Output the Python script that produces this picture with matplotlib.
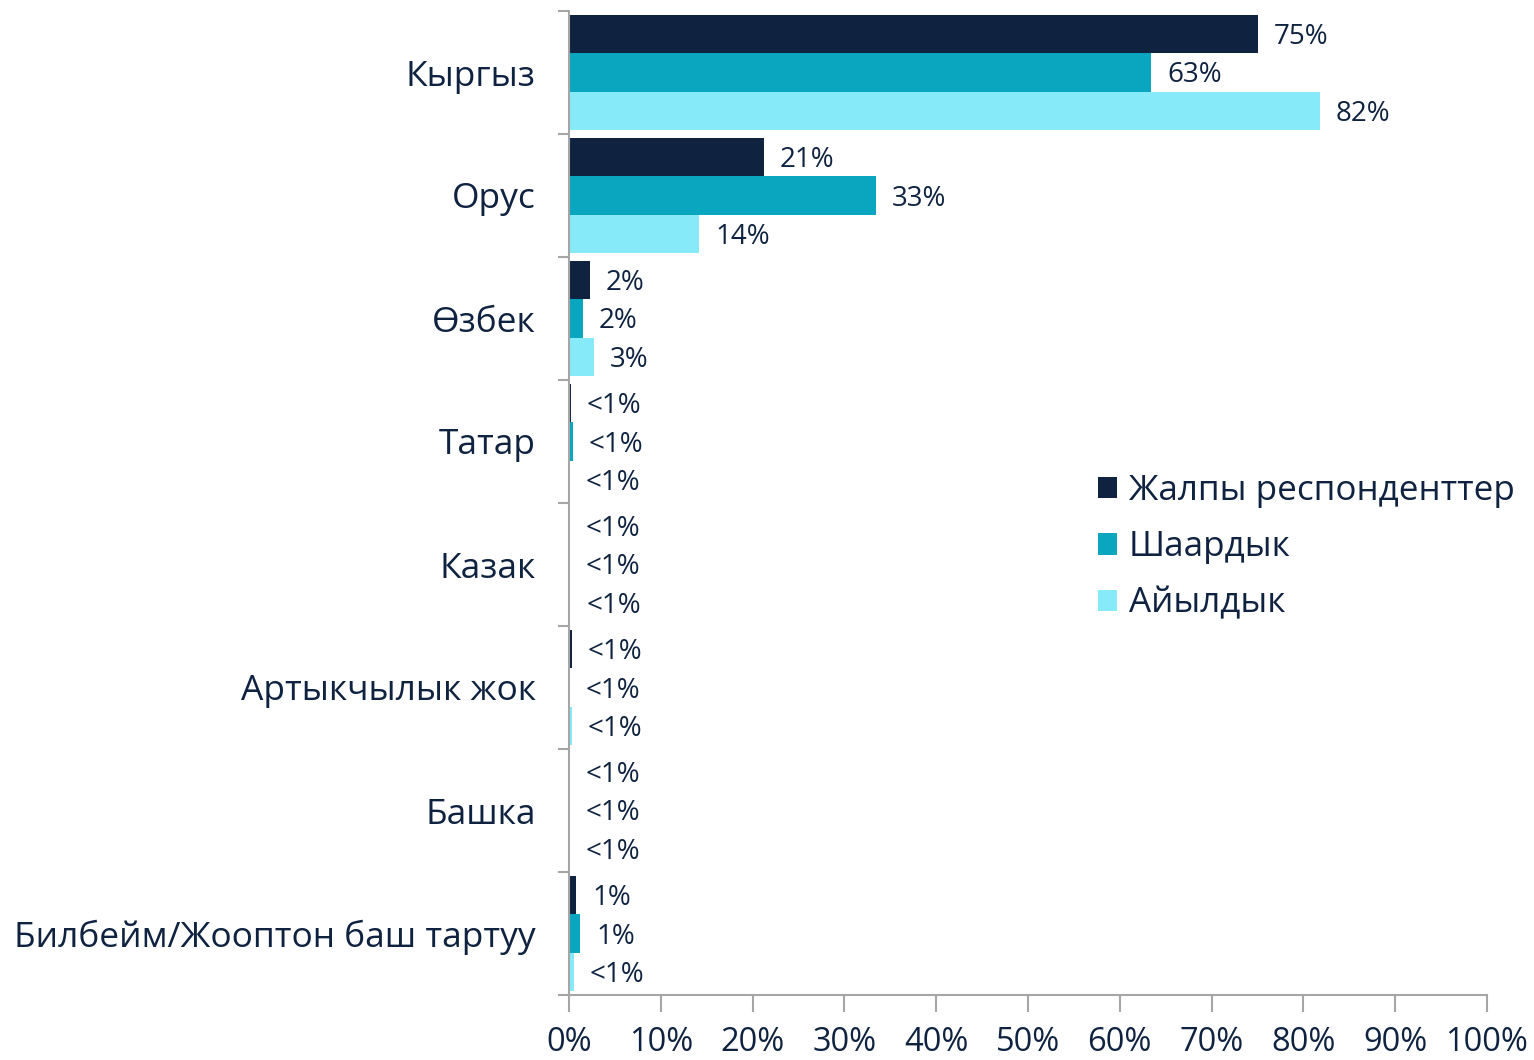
import matplotlib
matplotlib.use("Agg")
import matplotlib.pyplot as plt
import numpy as np

categories = ["Кыргыз", "Орус", "Өзбек", "Татар", "Казак", "Артыкчылык жок", "Башка",
              "Билбейм/Жооптон баш тартуу"]
series_names = ["Жалпы респонденттер", "Шаардык", "Айылдык"]
total = [75.0, 21.2, 2.3, 0.2, 0.1, 0.3, 0.05, 0.8]
urban = [63.4, 33.4, 1.5, 0.4, 0.05, 0.05, 0.05, 1.2]
rural = [81.8, 14.2, 2.7, 0.05, 0.15, 0.3, 0.1, 0.5]
total_labels = ["75%", "21%", "2%", "<1%", "<1%", "<1%", "<1%", "1%"]
urban_labels = ["63%", "33%", "2%", "<1%", "<1%", "<1%", "<1%", "1%"]
rural_labels = ["82%", "14%", "3%", "<1%", "<1%", "<1%", "<1%", "<1%"]
xticks = [0, 10, 20, 30, 40, 50, 60, 70, 80, 90, 100]

colors = ["#0F2341", "#0AA5BE", "#86EAF8"]
text_color = "#0F2341"
plt.rcParams['font.family'] = ['Open Sans', 'DejaVu Sans']

fig = plt.figure(figsize=(15.34, 10.60), dpi=100)
ax = fig.add_axes([569/1534, 65/1060, 918/1534, 984/1060])

n = len(categories)
y = np.arange(n)
h = 0.31
offs = [-h, 0, h]
data = [total, urban, rural]
labs = [total_labels, urban_labels, rural_labels]
for vals, lab, off, col, name in zip(data, labs, offs, colors, series_names):
    ax.barh(y + off, vals, height=h, color=col, label=name)
    for yi, v, t in zip(y, vals, lab):
        ax.annotate(t, (v, yi + off), xytext=(16, -3), textcoords='offset pixels',
                    ha='left', va='center', fontsize=20, color=text_color)

ax.set_ylim(n - 0.5, -0.5)
ax.set_xlim(0, 100)
ax.set_xticks(xticks)
ax.set_xticklabels([f"{v}%" for v in xticks], fontsize=23.5, color=text_color)
ax.set_yticks(y)
ax.set_yticklabels(categories, fontsize=25.5, color=text_color)
ax.tick_params(axis='y', length=0, pad=24)
ax.set_yticks(np.arange(n + 1) - 0.5, minor=True)
ax.tick_params(axis='y', which='minor', length=8, color='#A6A6A6', width=1.5)
ax.tick_params(axis='x', length=12, color='#A6A6A6', width=1.5, pad=10)
for s in ['top', 'right']:
    ax.spines[s].set_visible(False)
for s in ['left', 'bottom']:
    ax.spines[s].set_color('#A6A6A6')
    ax.spines[s].set_linewidth(1.5)

leg = ax.legend(loc='upper left', bbox_to_anchor=(1084/1534, 1 - 460/1060), bbox_transform=fig.transFigure,
                frameon=False, fontsize=25.2, handlelength=0.55, handleheight=0.55,
                handletextpad=0.33, labelspacing=0.64, borderaxespad=0)
for t in leg.get_texts():
    t.set_color(text_color)

fig.savefig("out.png", dpi=100)
